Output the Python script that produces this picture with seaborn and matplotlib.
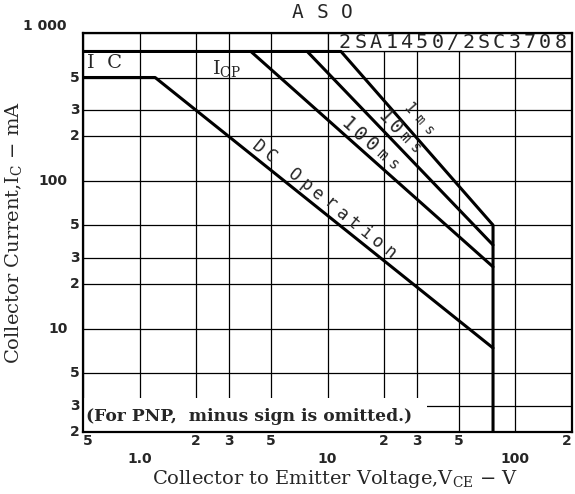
import numpy as np
import pandas as pd
import matplotlib
matplotlib.use("Agg")
import matplotlib.pyplot as plt
import matplotlib.transforms as mtransforms
from matplotlib.patches import Rectangle
import seaborn as sns

# ---------------- data ----------------
dc_v = [0.5, 1.21, 76.0]
dc_i = [500.0, 500.0, 7.4]

ms100_v = [3.91, 76.0]
ms100_i = [750.0, 26.2]

ms10_v = [7.8, 76.0]
ms10_i = [750.0, 36.8]

ms1_v = [0.5, 11.8, 76.0, 76.0]
ms1_i = [750.0, 750.0, 50.2, 2.0]

x_ticks = [0.5, 1, 2, 3, 5, 10, 20, 30, 50, 100, 200]
x_labels = ["5", "1.0", "2", "3", "5", "10", "2", "3", "5", "100", "2"]
x_decade = [False, True, False, False, False, True, False, False, False, True, False]

y_ticks = [2, 3, 5, 10, 20, 30, 50, 100, 200, 300, 500, 1000]
y_labels = ["2", "3", "5", "10", "2", "3", "5", "100", "2", "3", "5", "1 000"]
y_decade = [False, False, False, True, False, False, False, True, False, False, False, True]

# ---------------- style ----------------
sns.set_theme(style="white")
plt.rcParams["font.family"] = ["DejaVu Serif"]
plt.rcParams["mathtext.fontset"] = "dejavuserif"

W, H = 575, 494
fig = plt.figure(figsize=(W / 100, H / 100), dpi=100)
fig.patch.set_facecolor("white")
ax = fig.add_axes([83 / W, 1 - 432 / H, 489 / W, 399 / H])
ax.set_facecolor("white")
ax.set_xscale("log")
ax.set_yscale("log")
ax.set_xlim(0.5, 200)
ax.set_ylim(2, 1000)

# grid
ax.set_xticks(x_ticks)
ax.set_yticks(y_ticks)
ax.xaxis.set_minor_locator(matplotlib.ticker.NullLocator())
ax.yaxis.set_minor_locator(matplotlib.ticker.NullLocator())
ax.tick_params(labelbottom=False, labelleft=False, length=0)
ax.grid(True, color="black", lw=0.9, zorder=1)
ax.set_axisbelow(True)
for s in ax.spines.values():
    s.set_color("black")
    s.set_linewidth(1.6)
    s.set_zorder(6)

# thin line at the ICP level
ax.axhline(750, color="black", lw=0.9, zorder=1)

# white boxes covering grid
ax.add_patch(Rectangle((0.501, 0.955), 0.499, 0.045, transform=ax.transAxes,
                       facecolor="white", edgecolor="black", lw=0.9, zorder=2))
ax.add_patch(Rectangle((0.0, 0.0), 0.703, 0.085, transform=ax.transAxes,
                       facecolor="white", edgecolor="none", zorder=2))

# curves
lw = 2.2
def draw(v, i):
    df = pd.DataFrame({"V": v, "I": i})
    sns.lineplot(data=df, x="V", y="I", sort=False, estimator=None,
                 color="black", lw=lw, ax=ax, zorder=4)

draw(dc_v, dc_i)
draw(ms100_v, ms100_i)
draw(ms10_v, ms10_i)
draw(ms1_v, ms1_i)
ax.set_xlabel("")
ax.set_ylabel("")
ax.set_xlim(0.5, 200)
ax.set_ylim(2, 1000)


def angle(v1, i1, v2, i2):
    p1 = ax.transData.transform((v1, i1))
    p2 = ax.transData.transform((v2, i2))
    return np.degrees(np.arctan2(p2[1] - p1[1], p2[0] - p1[0]))


mono = ["DejaVu Sans Mono"]


def spaced(text, px, py, step, ang, sizes, family=mono):
    """Place characters one by one; (px, py) = centre of first char in image pixels."""
    a = np.radians(ang)
    if np.isscalar(sizes):
        sizes = [sizes] * len(text)
    for k, ch in enumerate(text):
        if ch == " ":
            continue
        x = px + k * step * np.cos(a)
        y = (H - py) + k * step * np.sin(a)
        fig.text(x / W, y / H, ch, rotation=ang, rotation_mode="anchor",
                 ha="center", va="center", fontsize=sizes[k], family=family, zorder=7)


a_dc = angle(dc_v[1], dc_i[1], dc_v[2], dc_i[2])
a_100 = angle(ms100_v[0], ms100_i[0], ms100_v[1], ms100_i[1])
a_10 = angle(ms10_v[0], ms10_i[0], ms10_v[1], ms10_i[1])
a_1 = angle(ms1_v[1], ms1_i[1], ms1_v[2], ms1_i[2])

spaced("DC Operation", 258, 147, 15.3, a_dc, 12.5)
spaced("100ms", 348, 125, 15.0, a_100, [14, 14, 14, 11, 11])
spaced("10ms", 385, 117, 14.2, a_10, [14, 14, 11, 11])
spaced("1ms", 409, 108, 15.0, a_1, [11, 10, 10])

spaced("2SA1450/2SC3708", 345, 42, 15.4, 0, 14.5)
spaced("ASO", 298, 13, 24.5, 0, 14)

ax.text(0.008, 0.925, "I  C", transform=ax.transAxes, ha="left", va="center", fontsize=14, zorder=5)
ax.text(0.264, 0.912, "I$_{\\rm CP}$", transform=ax.transAxes, ha="left", va="center", fontsize=14, zorder=5)
ax.text(0.006, 0.04, "(For PNP,  minus sign is omitted.)", transform=ax.transAxes, ha="left",
        va="center", fontsize=12.3, fontweight="bold", zorder=5)

# tick labels
tick_font = dict(family=["DejaVu Sans"], fontweight="bold", fontsize=10)
bx = mtransforms.blended_transform_factory(ax.transData, ax.transAxes)
for v, lab, dec in zip(x_ticks, x_labels, x_decade):
    if dec:
        ax.text(v, -0.067, lab, transform=bx, ha="center", va="center", **tick_font)
    elif v == x_ticks[-1]:
        ax.text(v, -0.004, lab, transform=bx, ha="right", va="top", **tick_font)
    elif v == x_ticks[0]:
        ax.text(v, -0.004, lab, transform=bx, ha="left", va="top", **tick_font)
    else:
        ax.text(v, -0.004, lab, transform=bx, ha="center", va="top", **tick_font)
by = mtransforms.blended_transform_factory(ax.transAxes, ax.transData)
for v, lab, dec in zip(y_ticks, y_labels, y_decade):
    if v == 1000:
        ax.text(-0.033, v, lab, transform=by, ha="right", va="bottom", **tick_font)
    elif dec:
        ax.text(-0.031, v, lab, transform=by, ha="right", va="center", **tick_font)
    else:
        ax.text(-0.006, v, lab, transform=by, ha="right", va="center", **tick_font)

fig.text(335 / W, 1 - 479 / H, "Collector to Emitter Voltage,V$_{\\rm CE}$ − V",
         ha="center", va="center", fontsize=14)
fig.text(14 / W, 1 - 232 / H, "Collector Current,I$_{\\rm C}$ − mA",
         ha="center", va="center", fontsize=14, rotation=90)

fig.savefig("out.png", dpi=100, facecolor="white")
